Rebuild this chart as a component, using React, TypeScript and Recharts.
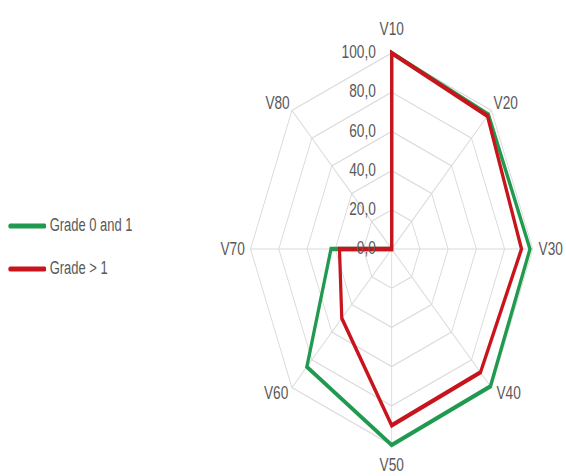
import { RadarChart, Radar, PolarGrid, PolarAngleAxis, PolarRadiusAxis, Legend } from "recharts";

const categories = ["V10", "V20", "V30", "V40", "V50", "V60", "V70", "V80"];
const gradeLow = [100, 97, 98, 99, 100, 85, 43, 0];
const gradeHigh = [100, 96, 92, 89, 90, 50, 37, 0];
const radiusTicks = [0, 20, 40, 60, 80, 100];

const SCALE_X = 0.72;
const W = 786;
const H = 476;
const CX = 544;
const CY = 249;
const R = 196;
const GREEN = "#1f9a4e";
const RED = "#c8141c";
const TEXT = "#595959";
const FONT = "'Liberation Sans', Arial, sans-serif";

const data = categories.map((c, i) => ({ axis: c, low: gradeLow[i], high: gradeHigh[i] }));

// per-spoke label placement relative to the outer vertex
const labelOffsets = [
    { dx: 0, dy: -24, anchor: "middle" },
    { dx: 3, dy: -8, anchor: "start" },
    { dx: 8, dy: 0, anchor: "start" },
    { dx: 7, dy: 5, anchor: "start" },
    { dx: 0, dy: 20, anchor: "middle" },
    { dx: -5, dy: 5, anchor: "end" },
    { dx: -8, dy: 0, anchor: "end" },
    { dx: -3, dy: -8, anchor: "end" },
];

const AngleTick = (props: any) => {
    const { index, payload } = props;
    const a = ((90 - index * 45) * Math.PI) / 180;
    const vx = CX + R * Math.cos(a);
    const vy = CY - R * Math.sin(a);
    const o = labelOffsets[index % labelOffsets.length];
    return (
        <text x={vx + o.dx} y={vy + o.dy} textAnchor={o.anchor} dominantBaseline="central"
            fill={TEXT} fontSize={19} fontFamily={FONT}>
            {payload.value}
        </text>
    );
};

const RadiusTick = (props: any) => {
    const { x, y, payload } = props;
    return (
        <text x={x - 22} y={y - 1} textAnchor="end" dominantBaseline="central"
            fill={TEXT} fontSize={19} fontFamily={FONT}>
            {Number(payload.value).toFixed(1).replace(".", ",")}
        </text>
    );
};

const LegendContent = (props: any) => {
    const { payload } = props;
    return (
        <div>
            {(payload || []).map((p: any) => (
                <div key={p.value} style={{ display: "flex", alignItems: "center", height: 43 }}>
                    <svg width={64} height={10}>
                        <line x1={14} y1={5} x2={62} y2={5} stroke={p.color} strokeWidth={5} strokeLinecap="round" />
                    </svg>
                    <span style={{ fontFamily: FONT, fontSize: 18, color: TEXT, marginLeft: 5 }}>{p.value}</span>
                </div>
            ))}
        </div>
    );
};

export default function App() {
    return (
        <div style={{ position: "absolute", left: 0, top: 0, width: W, height: H, transform: `scaleX(${SCALE_X})`, transformOrigin: "0 0" }}>
            <RadarChart width={W} height={H} data={data} cx={CX} cy={CY} outerRadius={R}
                margin={{ top: 0, right: 0, bottom: 0, left: 0 }}>
                <PolarGrid gridType="polygon" stroke="#d9d9d9" strokeWidth={1.2} polarRadius={radiusTicks.map((t) => (t / 100) * R)} />
                <PolarAngleAxis dataKey="axis" tick={<AngleTick />} tickLine={false} axisLine={false} />
                <PolarRadiusAxis angle={90} domain={[0, 100]} ticks={radiusTicks as any} tickCount={6}
                    axisLine={false} tickLine={false} tick={<RadiusTick />} />
                <Radar name="Grade 0 and 1" dataKey="low" stroke={GREEN} strokeWidth={4.5} fill="none"
                    fillOpacity={0} dot={false} isAnimationActive={false} />
                <Radar name="Grade > 1" dataKey="high" stroke={RED} strokeWidth={4.5} fill="none"
                    fillOpacity={0} dot={false} isAnimationActive={false} />
                <Legend layout="vertical" align="left" verticalAlign="top" content={<LegendContent />}
                    wrapperStyle={{ left: 0, top: 204, width: 260 }} />
            </RadarChart>
        </div>
    );
}
